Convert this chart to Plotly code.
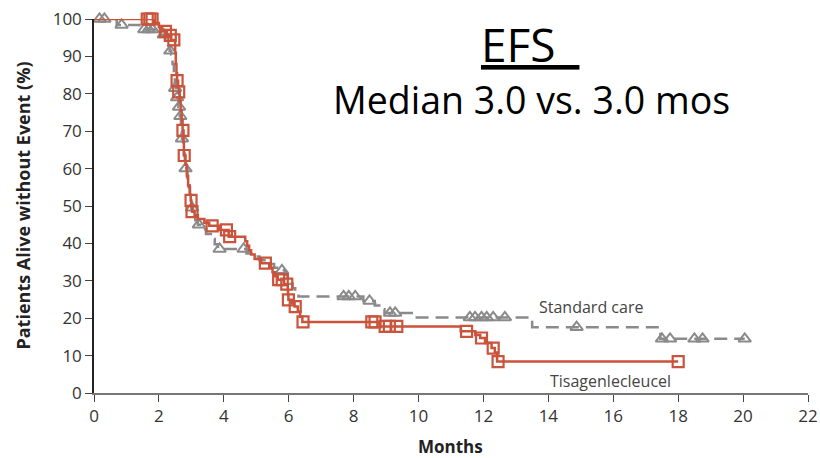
import plotly.graph_objects as go

# Kaplan-Meier step data (months, % alive without event)
tisa_t = [0, 1.85, 2.0, 2.1, 2.25, 2.38, 2.5, 2.52, 2.54, 2.56, 2.59, 2.61, 2.64, 2.67, 2.7, 2.73, 2.76, 2.77,
          2.82, 2.86, 2.9, 2.95, 2.98, 3.0, 3.02, 3.1, 3.2, 3.4, 3.55, 3.85, 4.15, 4.66, 4.72, 4.78, 4.84, 4.95,
          5.15, 5.4, 5.5, 5.58, 5.66, 5.85, 5.97, 5.98, 5.99, 6.1, 6.18, 6.28, 6.35, 6.42, 8.8, 11.3, 11.75,
          11.9, 12.05, 12.25, 12.35, 12.42, 18.0]
tisa_s = [100, 98.9, 97.8, 96.7, 95.6, 94.4, 91, 88, 85.5, 83.5, 82, 80.5, 78, 75.5, 73, 70.2, 67, 63.5,
          61, 58, 55.5, 53, 51.5, 50, 48.5, 47.5, 46.5, 45.5, 44.7, 43.6, 41.8, 40.6, 39.4, 38.2, 37, 35.8,
          34.7, 33.5, 32.3, 31.2, 30.3, 29.1, 27.5, 26.2, 24.9, 24.0, 23.1, 21.8, 20.4, 19.0, 17.8, 16.5, 15.5,
          14.7, 13.4, 12.0, 10.8, 8.4, 8.4]
tisa_cens_t = [1.64, 1.72, 1.79, 2.2, 2.35, 2.46, 2.56, 2.61, 2.74, 2.78, 2.99, 3.02, 3.64, 4.08, 4.18, 5.28,
               5.69, 5.8, 5.94, 5.99, 6.2, 6.44, 8.56, 8.66, 8.97, 9.1, 9.33, 11.48, 11.94, 12.3, 12.45, 18.0]
tisa_cens_s = [100, 100, 100, 96.7, 95.6, 94.4, 83.5, 80.5, 70.2, 63.5, 51.5, 48.5, 44.7, 43.6, 41.8, 34.7,
               30.3, 30.3, 29.1, 24.9, 23.1, 19.0, 19.0, 19.0, 17.8, 17.8, 17.8, 16.5, 14.7, 12.0, 8.4, 8.4]

std_t = [0, 0.7, 1.4, 2.05, 2.2, 2.28, 2.33, 2.38, 2.42, 2.46, 2.49, 2.53, 2.56, 2.6, 2.64, 2.68, 2.71, 2.74,
         2.77, 2.8, 2.84, 2.88, 2.92, 2.96, 3.0, 3.05, 3.12, 3.2, 3.3, 3.45, 3.6, 3.72, 3.82, 4.7, 4.85, 5.1,
         5.35, 5.55, 5.7, 5.88, 5.97, 6.05, 6.12, 6.2, 6.3, 8.3, 8.65, 8.85, 8.95, 9.9, 13.5, 17.45, 20.05]
std_s = [100, 98.4, 97.2, 95.8, 94.4, 93, 91.5, 90.5, 88, 85.5, 83, 81.5, 79, 76.5, 74, 71, 68, 66,
         64, 62, 60, 57.5, 55, 52.5, 49.5, 47.5, 46.2, 45, 43.8, 42.5, 41.2, 39.8, 38.5, 37.3, 36.5, 35.5,
         34.5, 33.5, 32.8, 31.6, 30.4, 29.2, 28, 27, 25.8, 24.6, 23.4, 22.4, 21.4, 20.2, 17.6, 14.5, 14.5]
std_cens_t = [0.17, 0.32, 0.85, 1.55, 1.68, 1.8, 2.15, 2.35, 2.5, 2.56, 2.62, 2.66, 2.71, 2.82, 3.02, 3.23,
              3.87, 4.61, 5.79, 7.69, 7.85, 8.05, 8.49, 9.12, 9.28, 11.58, 11.74, 11.94, 12.1, 12.3, 12.66,
              14.87, 17.5, 17.75, 18.5, 18.75, 20.05]
std_cens_s = [100, 100, 98.4, 97.2, 97.2, 97.2, 95.8, 91.5, 81.5, 79, 76.5, 74, 68, 60, 49.5, 45,
              38.5, 38.5, 32.8, 25.8, 25.8, 25.8, 24.6, 21.4, 21.4, 20.2, 20.2, 20.2, 20.2, 20.2, 20.2,
              17.6, 14.5, 14.5, 14.5, 14.5, 14.5]

x_ticks = list(range(0, 23, 2))
y_ticks = list(range(0, 101, 10))

RED = "#c9533b"
GRAY = "#8a8a8a"

L, R, T, B = 93.5, 12, 19, 65
W, H = 820, 458

def px_to_paper(px, py):
    return (px - L) / (W - L - R), (H - B - py) / (H - B - T)

fig = go.Figure()
fig.add_trace(go.Scatter(x=std_t, y=std_s, mode="lines", line=dict(color=GRAY, width=2.5, dash="13px,7px"),
                         line_shape="hv", hoverinfo="skip", cliponaxis=False))
fig.add_trace(go.Scatter(x=std_cens_t, y=std_cens_s, mode="markers",
                         marker=dict(symbol="triangle-up-open", size=11, color=GRAY, line=dict(width=2)),
                         cliponaxis=False))
fig.add_trace(go.Scatter(x=tisa_t, y=tisa_s, mode="lines", line=dict(color=RED, width=2.5),
                         line_shape="hv", cliponaxis=False))
fig.add_trace(go.Scatter(x=tisa_cens_t, y=tisa_cens_s, mode="markers",
                         marker=dict(symbol="square-open", size=11, color=RED, line=dict(width=2.2)),
                         cliponaxis=False))

tick_font = dict(family="Open Sans, sans-serif", size=17, color="#333333")
fig.update_layout(
    width=W, height=H, showlegend=False,
    paper_bgcolor="white", plot_bgcolor="white",
    margin=dict(l=L, r=R, t=T, b=B, autoexpand=False),
    xaxis=dict(range=[0, 22], tickvals=x_ticks, ticks="outside", ticklen=7, tickcolor="#444",
               showline=True, linecolor="#777", linewidth=2, showgrid=False, zeroline=False,
               tickfont=tick_font, automargin=False),
    yaxis=dict(range=[0, 100], tickvals=y_ticks, ticks="outside", ticklen=7, tickcolor="#444",
               showline=True, linecolor="#222", linewidth=1.5, showgrid=False, zeroline=False,
               tickfont=tick_font, automargin=False),
)

ax, ay = px_to_paper(22, 206)
fig.add_annotation(xref="paper", yref="paper", x=ax, y=ay, text="<b>Patients Alive without Event (%)</b>",
                   textangle=-90, showarrow=False, xanchor="center", yanchor="middle",
                   font=dict(family="Open Sans, sans-serif", size=18, color="#222"))
ax, ay = px_to_paper(450, 447)
fig.add_annotation(xref="paper", yref="paper", x=ax, y=ay, text="<b>Months</b>", showarrow=False,
                   xanchor="center", yanchor="middle",
                   font=dict(family="Open Sans, sans-serif", size=17, color="#222"))

ax, ay = px_to_paper(530, 44)
fig.add_annotation(xref="paper", yref="paper", x=ax, y=ay, text="<u>EFS  </u>", showarrow=False,
                   font=dict(family="Open Sans, sans-serif", size=46, color="black"), xanchor="center",
                   yanchor="middle")
ax, ay = px_to_paper(531, 100)
fig.add_annotation(xref="paper", yref="paper", x=ax, y=ay, text="Median 3.0 vs. 3.0 mos", showarrow=False,
                   font=dict(family="Open Sans, sans-serif", size=37.5, color="black"), xanchor="center",
                   yanchor="middle")
fig.add_annotation(x=15.3, y=23.0, text="Standard care", showarrow=False,
                   font=dict(family="Open Sans, sans-serif", size=16, color="#444"), xanchor="center")
fig.add_annotation(x=15.9, y=3.2, text="Tisagenlecleucel", showarrow=False,
                   font=dict(family="Open Sans, sans-serif", size=16, color="#444"), xanchor="center")

fig.write_html("out.html")
